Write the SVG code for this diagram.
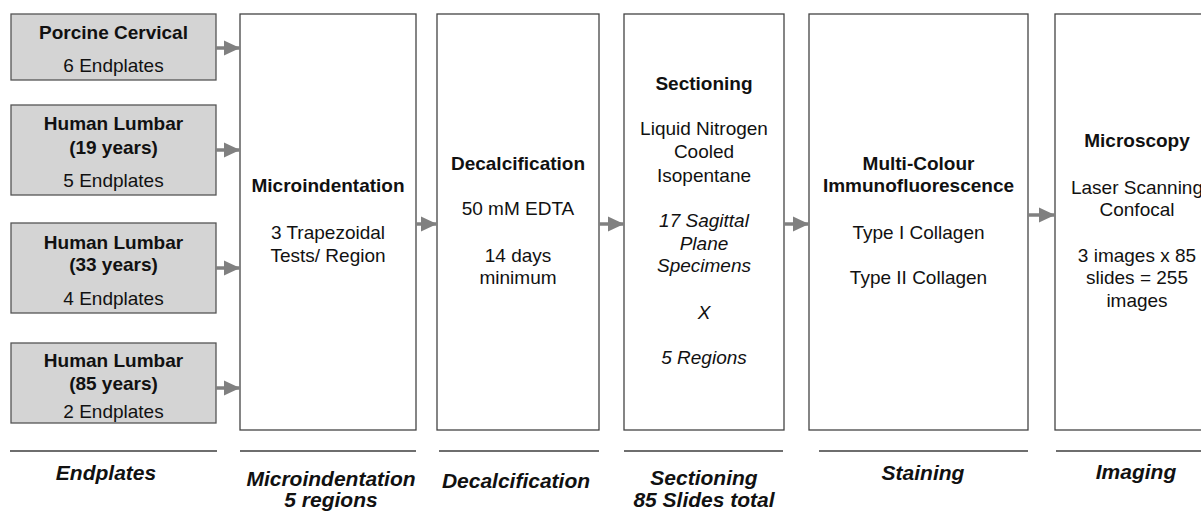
<svg xmlns="http://www.w3.org/2000/svg" width="1201" height="512" viewBox="0 0 1201 512">
<style>
text{font-family:"Liberation Sans",Arial,sans-serif;fill:#111;text-anchor:middle}
.t{font-size:19px}
.b{font-weight:bold}
.i{font-style:italic}
.lab{font-size:21px;font-weight:bold;font-style:italic}
.src{fill:#d4d4d4;stroke:#555;stroke-width:1.3}
.stg{fill:#fff;stroke:#444;stroke-width:1.3}
.sep{stroke:#6e6e6e;stroke-width:2}
.arr{stroke:#808080;stroke-width:3.5;fill:none;marker-end:url(#ah)}
</style>
<defs>
<marker id="ah" markerUnits="userSpaceOnUse" markerWidth="17" markerHeight="17" viewBox="0 0 17 17" refX="16" refY="8.5" orient="auto">
<path d="M0,1 L16,8.5 L0,16 Z" fill="#808080"/>
</marker>
</defs>
<rect width="1201" height="512" fill="#fff"/>
<g id="porcine">
<rect class="src" x="11" y="14" width="205" height="66"/>
<text class="t b" x="113.5" y="39">Porcine Cervical</text>
<text class="t" x="113.5" y="72">6 Endplates</text>
</g>
<g id="lumbar19">
<rect class="src" x="11" y="105" width="205" height="90"/>
<text class="t b" x="113.5" y="130">Human Lumbar</text>
<text class="t b" x="113.5" y="154">(19 years)</text>
<text class="t" x="113.5" y="187">5 Endplates</text>
</g>
<g id="lumbar33">
<rect class="src" x="11" y="223" width="205" height="90"/>
<text class="t b" x="113.5" y="249">Human Lumbar</text>
<text class="t b" x="113.5" y="271">(33 years)</text>
<text class="t" x="113.5" y="305">4 Endplates</text>
</g>
<g id="lumbar85">
<rect class="src" x="11" y="343" width="205" height="80"/>
<text class="t b" x="113.5" y="367">Human Lumbar</text>
<text class="t b" x="113.5" y="390">(85 years)</text>
<text class="t" x="113.5" y="418">2 Endplates</text>
</g>
<g id="microindentation">
<rect class="stg" x="240" y="14" width="176" height="416"/>
<text class="t b" x="328" y="192">Microindentation</text>
<text class="t" x="328" y="239">3 Trapezoidal</text>
<text class="t" x="328" y="262">Tests/ Region</text>
</g>
<g id="decalcification">
<rect class="stg" x="437" y="14" width="162" height="416"/>
<text class="t b" x="518" y="170">Decalcification</text>
<text class="t" x="518" y="215">50 mM EDTA</text>
<text class="t" x="518" y="262">14 days</text>
<text class="t" x="518" y="284">minimum</text>
</g>
<g id="sectioning">
<rect class="stg" x="624" y="14" width="160" height="416"/>
<text class="t b" x="704" y="90">Sectioning</text>
<text class="t" x="704" y="135">Liquid Nitrogen</text>
<text class="t" x="704" y="158">Cooled</text>
<text class="t" x="704" y="182">Isopentane</text>
<text class="t i" x="704" y="227">17 Sagittal</text>
<text class="t i" x="704" y="250">Plane</text>
<text class="t i" x="704" y="272">Specimens</text>
<text class="t i" x="704" y="319">X</text>
<text class="t i" x="704" y="364">5 Regions</text>
</g>
<g id="staining">
<rect class="stg" x="809" y="14" width="219" height="416"/>
<text class="t b" x="918.5" y="170">Multi-Colour</text>
<text class="t b" x="918.5" y="192">Immunofluorescence</text>
<text class="t" x="918.5" y="239">Type I Collagen</text>
<text class="t" x="918.5" y="284">Type II Collagen</text>
</g>
<g id="imaging">
<rect class="stg" x="1055" y="14" width="164" height="416"/>
<text class="t b" x="1137" y="147">Microscopy</text>
<text class="t" x="1137" y="194">Laser Scanning</text>
<text class="t" x="1137" y="216">Confocal</text>
<text class="t" x="1137" y="262">3 images x 85</text>
<text class="t" x="1137" y="284">slides = 255</text>
<text class="t" x="1137" y="307">images</text>
</g>
<g id="connectors">
<line class="arr" x1="216" y1="48" x2="240" y2="48"/>
<line class="arr" x1="216" y1="150" x2="240" y2="150"/>
<line class="arr" x1="216" y1="268" x2="240" y2="268"/>
<line class="arr" x1="216" y1="388" x2="240" y2="388"/>
<line class="arr" x1="416" y1="224" x2="437" y2="224"/>
<line class="arr" x1="599" y1="224" x2="624" y2="224"/>
<line class="arr" x1="784" y1="224" x2="809" y2="224"/>
<line class="arr" x1="1028" y1="215" x2="1055" y2="215"/>
</g>
<g id="phase-labels">
<line class="sep" x1="10" y1="451" x2="217" y2="451"/>
<line class="sep" x1="240" y1="451" x2="416" y2="451"/>
<line class="sep" x1="439" y1="451" x2="599" y2="451"/>
<line class="sep" x1="624" y1="451" x2="783" y2="451"/>
<line class="sep" x1="819" y1="451" x2="1028" y2="451"/>
<line class="sep" x1="1056" y1="451" x2="1201" y2="451"/>
<text class="lab" x="106" y="480">Endplates</text>
<text class="lab" x="331" y="486">Microindentation</text>
<text class="lab" x="331" y="507">5 regions</text>
<text class="lab" x="516" y="488">Decalcification</text>
<text class="lab" x="704" y="485">Sectioning</text>
<text class="lab" x="704" y="507">85 Slides total</text>
<text class="lab" x="923" y="480">Staining</text>
<text class="lab" x="1136" y="479">Imaging</text>
</g>
</svg>
